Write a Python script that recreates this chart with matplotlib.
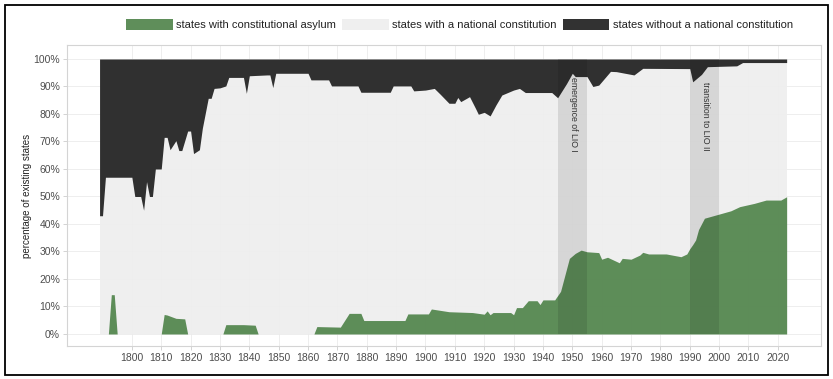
import numpy as np
import matplotlib.pyplot as plt
from matplotlib.patches import Patch, Rectangle

plt.rcParams['font.family'] = ['Liberation Sans', 'DejaVu Sans']

# ---------------------------------------------------
# data (% of existing states)
# ---------------------------------------------------
first_year, last_year = 1789, 2023

# states without a national constitution (top layer)
no_const_years = [1789, 1790, 1791, 1800, 1801, 1803, 1804, 1805, 1806, 1807,
                  1808, 1810, 1811, 1812, 1813, 1815, 1816, 1817, 1819, 1820,
                  1821, 1823, 1824, 1826, 1827, 1828, 1830, 1832, 1833, 1838,
                  1839, 1840, 1846, 1847, 1848, 1849, 1860, 1861, 1867, 1868,
                  1877, 1878, 1888, 1889, 1895, 1896, 1900, 1903, 1905, 1908,
                  1910, 1911, 1912, 1915, 1917, 1918, 1920, 1922, 1924, 1926,
                  1930, 1932, 1934, 1943, 1945, 1948, 1950, 1951, 1955, 1957,
                  1959, 1963, 1965, 1971, 1974, 1990, 1991, 1994, 1996, 2006,
                  2008, 2023]
no_const_share = [57, 57, 43, 43, 50, 50, 55, 44.6, 50, 50,
                  40, 40, 28.5, 28.5, 33, 29.7, 33.3, 33.3, 26.2, 26.2,
                  34.4, 33, 25.2, 14.3, 14.3, 10.7, 10.5, 9.8, 6.7, 6.7,
                  12.5, 6.1, 5.8, 5.8, 10.4, 5.2, 5.2, 7.6, 7.6, 9.8,
                  9.8, 12.1, 12.1, 9.8, 9.8, 11.6, 11.3, 10.7, 12.8, 16.1,
                  16.1, 14.0, 15.5, 13.7, 17.9, 20.1, 19.4, 20.7, 16.7, 13.1,
                  11.3, 10.7, 12.2, 12.2, 14.1, 9.0, 5.2, 6.4, 6.4, 10.0,
                  9.5, 4.5, 4.6, 5.8, 3.4, 3.5, 8.3, 5.6, 2.8, 2.5,
                  1.3, 1.3]

# states with constitutional asylum (bottom layer)
asylum_years = [1789, 1792, 1793, 1794, 1795, 1810, 1811, 1812, 1815, 1818,
                1819, 1831, 1832, 1838, 1842, 1843, 1862, 1863, 1871, 1874,
                1878, 1879, 1893, 1894, 1901, 1902, 1908, 1916, 1920, 1921,
                1922, 1923, 1929, 1930, 1931, 1933, 1935, 1938, 1939, 1940,
                1944, 1946, 1947, 1948, 1949, 1951, 1953, 1955, 1959, 1960,
                1962, 1966, 1967, 1970, 1973, 1974, 1976, 1982, 1987, 1989,
                1990, 1991, 1992, 1993, 1995, 1998, 2001, 2004, 2007, 2012,
                2016, 2021, 2023]
asylum_share = [0, 0, 14.3, 14.3, 0, 0, 7.1, 6.9, 5.7, 5.5,
                0, 0, 3.4, 3.4, 3.2, 0, 0, 2.7, 2.5, 7.5,
                7.5, 4.9, 4.9, 7.3, 7.3, 9.1, 8.1, 7.8, 7.2, 8.4,
                7.0, 7.8, 7.8, 7.0, 9.6, 9.6, 12.1, 12.1, 10.7, 12.4,
                12.4, 15.5, 19.5, 23.5, 27.5, 29.3, 30.5, 29.9, 29.6, 27.2,
                27.9, 25.9, 27.5, 27.2, 28.7, 29.7, 29.1, 29.1, 28.1, 29.1,
                31.0, 32.5, 34.2, 38.0, 42.1, 43.0, 43.9, 44.8, 46.3, 47.5,
                48.7, 48.7, 49.9]

# liberal international order periods
lio_start = [1945, 1990]
lio_end = [1955, 2000]
lio_labels = ['emergence of LIO I', 'transition to LIO II']

green = '#4d8248'
light = '#eeeeee'
dark = '#1b1b1b'
txt_col = '#4d4d4d'

# ---------------------------------------------------
# plot
# ---------------------------------------------------
fig = plt.figure(figsize=(8.33, 3.79), dpi=100)
ax = fig.add_axes([0.0804, 0.0871, 0.9052, 0.7942])

ax.set_axisbelow(True)
ax.grid(True, color='#ebebeb', linewidth=0.6)

ax.fill_between([first_year, last_year], 0, 100, color=light, alpha=0.9, lw=0)
ax.fill_between(asylum_years, 0, asylum_share, color=green, alpha=0.9, lw=0)
top = 100 - np.array(no_const_share)
ax.fill_between(no_const_years, top, 100, color=dark, alpha=0.9, lw=0)

label_top = [93.3, 91.5]
for s, e, lab, yt in zip(lio_start, lio_end, lio_labels, label_top):
    ax.fill_between([s, e], 0, 100, color='black', alpha=0.1, lw=0)
    ax.text((s + e) / 2 + 0.3, yt, lab, rotation=-90, ha='center', va='top',
            fontsize=6.3, color='#333333')

ax.set_xlim(1777.9, 2034.7)
ax.set_ylim(-4.36, 105.09)
ax.set_xticks(range(1800, 2021, 10))
ax.set_yticks(range(0, 101, 10))
ax.set_yticklabels([f'{v}%' for v in range(0, 101, 10)])
ax.tick_params(labelsize=7.5, labelcolor=txt_col, color='#cccccc',
               length=3, width=0.6, pad=2)
for sp in ax.spines.values():
    sp.set_color('#d4d4d4')
    sp.set_linewidth(0.8)

ax.set_ylabel('percentage of existing states', fontsize=7, color='#222222',
              labelpad=1)

handles = [Patch(facecolor=green, alpha=0.9, lw=0),
           Patch(facecolor=light, alpha=0.9, lw=0),
           Patch(facecolor=dark, alpha=0.9, lw=0)]
names = ['states with constitutional asylum',
         'states with a national constitution',
         'states without a national constitution']
fig.legend(handles, names, loc='center', bbox_to_anchor=(0.552, 0.935),
           ncol=3, frameon=False, fontsize=8, handlelength=4.15,
           handleheight=1.17, handletextpad=0.35, columnspacing=0.55,
           labelcolor='#222222')

fig.patches.append(Rectangle((0.006, 0.011), 0.988, 0.977,
                             transform=fig.transFigure, fill=False,
                             edgecolor='black', linewidth=1.3))

fig.savefig('out.png', dpi=100)
